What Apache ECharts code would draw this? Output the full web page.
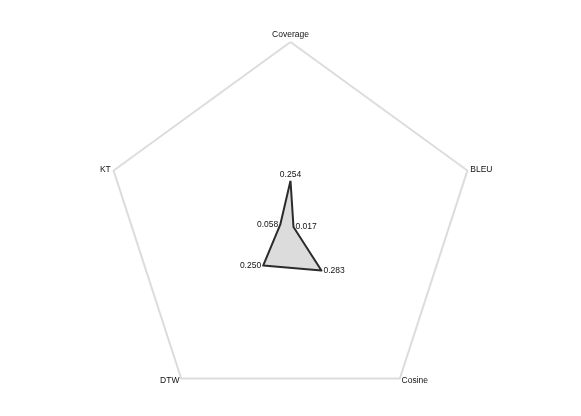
<!DOCTYPE html>
<html><head><meta charset="utf-8">
<script src="https://cdn.jsdelivr.net/npm/echarts@6/dist/echarts.min.js"></script>
<style>html,body{margin:0;padding:0;background:#fff}#c{width:581px;height:416px}</style>
</head><body><div id="c"></div>
<script>
const indicators = ['Coverage', 'KT', 'DTW', 'Cosine', 'BLEU'];
const values = [0.254, 0.058, 0.250, 0.283, 0.017];
const maxValue = 1;
const leftLabeled = ['KT', 'DTW'];
const rightLabeled = ['BLEU', 'Cosine'];
const topLabeled = ['Coverage'];

const font = 'Liberation Sans, Arial, Helvetica, sans-serif';
function pick(names) {
  const vals = names.map(n => values[indicators.indexOf(n)]);
  return p => {
    const v = Array.isArray(p.value) ? NaN : Number(p.value);
    return vals.indexOf(v) >= 0 ? v.toFixed(3) : '';
  };
}
function labelSeries(names, pos) {
  return {
    type: 'radar', silent: true, symbol: 'circle', symbolSize: 2, z: 4,
    itemStyle: { color: 'rgba(0,0,0,0)', borderWidth: 0 },
    lineStyle: { width: 0, color: 'rgba(0,0,0,0)' },
    label: { show: true, position: pos, distance: 1, fontSize: 8.5, color: '#111', fontFamily: font, formatter: pick(names) },
    data: [{ value: values }]
  };
}
const chart = echarts.init(document.getElementById('c'));
chart.setOption({
  animation: false,
  backgroundColor: '#fff',
  radar: {
    center: ['50%', 228],
    radius: 186,
    startAngle: 90,
    splitNumber: 1,
    shape: 'polygon',
    indicator: indicators.map(n => ({ name: n, max: maxValue, min: 0 })),
    nameGap: 3,
    axisName: { color: '#111', fontSize: 8.5, fontFamily: font },
    axisLine: { show: false },
    axisTick: { show: false },
    axisLabel: { show: false },
    splitLine: { lineStyle: { color: '#dcdcdc', width: 2 } },
    splitArea: { show: false }
  },
  series: [
    {
      type: 'radar', symbol: 'none', z: 2, silent: true,
      lineStyle: { width: 0, color: 'rgba(0,0,0,0)' },
      areaStyle: { color: '#dcdcdc', opacity: 1 },
      data: [{ value: values }]
    },
    {
      type: 'radar', symbol: 'none', z: 3,
      lineStyle: { color: '#2b2b2b', width: 2 },
      data: [{ value: values }]
    },
    labelSeries(leftLabeled, 'left'),
    labelSeries(rightLabeled, 'right'),
    labelSeries(topLabeled, 'top')
  ]
});
</script></body></html>
